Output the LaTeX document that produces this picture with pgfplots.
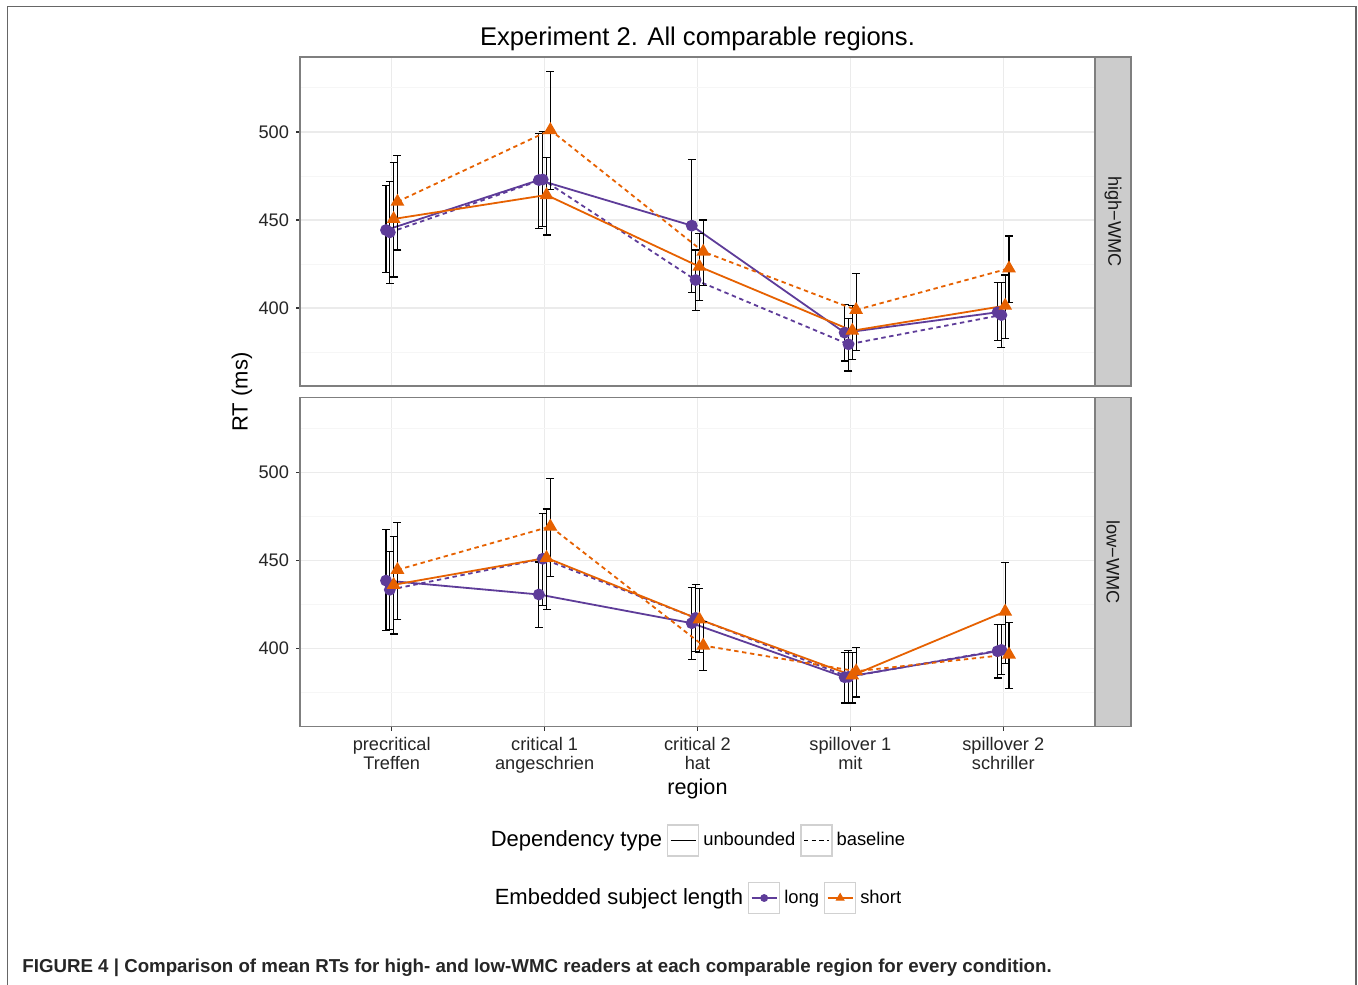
\documentclass[border=0pt]{standalone}
\usepackage{fontspec}
\setmainfont{Liberation Sans}
\usepackage{pgfplots}
\pgfplotsset{compat=1.18}
\usepackage{pgfplotstable}
\newlength\px \setlength\px{0.5pt}
\definecolor{cpurple}{HTML}{5E3C99}
\definecolor{corange}{HTML}{E66101}
\definecolor{gridmaj}{HTML}{EBEBEB}
\definecolor{gridmin}{HTML}{F6F6F6}
\definecolor{border}{HTML}{7F7F7F}
\definecolor{stripfill}{HTML}{CCCCCC}

% high-WMC
\pgfplotstableread{
x y lo hi
1 444.3 420.1 469.5
2 472.7 445.3 499.2
3 446.8 408.9 484.5
4 386.0 369.9 402.1
5 397.6 381.4 414.4
}\hiLU
\pgfplotstableread{
x y lo hi
1 443.0 414.0 471.8
2 473.0 446.2 500.2
3 415.9 398.7 433.0
4 379.4 364.2 394.1
5 396.0 377.6 414.4
}\hiLB
\pgfplotstableread{
x y lo hi
1 450.6 417.6 482.6
2 464.2 441.5 485.4
3 423.5 404.4 442.2
4 387.1 370.8 401.5
5 401.3 382.8 418.8
}\hiSU
\pgfplotstableread{
x y lo hi
1 460.4 433.0 486.7
2 501.1 467.4 534.3
3 432.0 412.9 450.0
4 398.9 375.8 419.7
5 422.5 403.2 440.9
}\hiSB
% low-WMC
\pgfplotstableread{
x y lo hi
1 438.6 410.2 467.4
2 430.7 412.1 449.2
3 414.4 393.8 434.8
4 383.7 369.0 397.9
5 398.5 383.3 413.8
}\loLU
\pgfplotstableread{
x y lo hi
1 433.4 410.6 455.3
2 451.0 424.4 476.9
3 417.4 398.5 436.2
4 383.9 369.0 398.9
5 399.2 385.2 413.8
}\loLB
\pgfplotstableread{
x y lo hi
1 436.2 408.3 463.6
2 451.5 422.3 479.3
3 416.5 397.9 433.9
4 384.7 369.0 397.9
5 421.0 391.7 448.9
}\loSU
\pgfplotstableread{
x y lo hi
1 444.7 416.5 471.4
2 469.3 441.1 496.6
3 401.7 387.5 415.5
4 387.1 372.5 400.6
5 396.6 377.1 415.0
}\loSB

\pgfplotsset{
  panel/.style={
    scale only axis, width=795\px, height=329\px,
    xmin=0.4, xmax=5.6, ymin=355.7, ymax=542.6,
    xtick={1,2,3,4,5}, ytick={400,450,500}, minor ytick={375,425,475,525},
    grid=both,
    major grid style={gridmaj, line width=0.6pt},
    minor grid style={gridmin, line width=0.5pt},
    axis line style={border, line width=0.65pt},
    tick align=outside, tick pos=left,
    major tick length=4\px, minor tick length=0pt,
    major tick style={black!80, line width=0.55pt},
    ticklabel style={font=\fontsize{9.1}{9.5}\selectfont, text=black!85},
    /pgf/number format/assume math mode=true,
    axis background/.style={fill=white},
  },
  LU/.style={cpurple, line width=0.9pt, solid, mark=*, mark size=2.5pt, mark options={solid, fill=cpurple}},
  LB/.style={cpurple, line width=0.9pt, dash pattern=on 2.2pt off 1.8pt, mark=*, mark size=2.5pt, mark options={solid, fill=cpurple}},
  SU/.style={corange, line width=0.9pt, solid, mark=triangle*, mark size=3.1pt, mark options={solid, fill=corange}},
  SB/.style={corange, line width=0.9pt, dash pattern=on 2.2pt off 1.8pt, mark=triangle*, mark size=3.1pt, mark options={solid, fill=corange}},
  ebars/.style={error bars/.cd, y dir=both, y explicit,
    error bar style={black, line width=0.6pt, solid},
    error mark options={black, rotate=90, mark size=4\px, line width=0.6pt, solid}},
  keyline/.style={legend image code/.code={%
    \draw[black!18, line width=0.6pt, solid, fill=white] (0pt,-7.75pt) rectangle (15.5pt,7.75pt);
    \draw[mark repeat=2, mark phase=2, ##1] plot coordinates {(1.5pt,0pt) (7.75pt,0pt) (14pt,0pt)};
  }},
  leg/.style={legend style={draw=none, fill=none, anchor=center, legend columns=-1,
    font=\fontsize{9.2}{10}\selectfont, text=black,
    /tikz/every even column/.append style={column sep=1\px}}},
}

\begin{document}
\begin{tikzpicture}
\useasboundingbox (0,0) rectangle (1358\px,-984\px);
\fill[white] (0,0) rectangle (1358\px,-984\px);
\draw[black!60, line width=0.75pt] (7.5\px,-995\px) -- (7.5\px,-6.5\px) -- (1356\px,-6.5\px) -- (1356\px,-995\px);

% top panel: high-WMC
\begin{axis}[panel, at={(300\px,-57\px)}, anchor=north west,
  xticklabels={}, xtick style={draw=none}, leg,
  legend style={at={(0.5006,-1.3814)}}]
\addplot[LU, forget plot, ebars] table[x expr=\thisrow{x}-0.0375, y=y, y error plus expr=\thisrow{hi}-\thisrow{y}, y error minus expr=\thisrow{y}-\thisrow{lo}] {\hiLU};
\addplot[LB, forget plot, ebars] table[x expr=\thisrow{x}-0.0125, y=y, y error plus expr=\thisrow{hi}-\thisrow{y}, y error minus expr=\thisrow{y}-\thisrow{lo}] {\hiLB};
\addplot[SU, forget plot, ebars] table[x expr=\thisrow{x}+0.0125, y=y, y error plus expr=\thisrow{hi}-\thisrow{y}, y error minus expr=\thisrow{y}-\thisrow{lo}] {\hiSU};
\addplot[SB, forget plot, ebars] table[x expr=\thisrow{x}+0.0375, y=y, y error plus expr=\thisrow{hi}-\thisrow{y}, y error minus expr=\thisrow{y}-\thisrow{lo}] {\hiSB};
\addlegendimage{empty legend}
\addlegendentry{\fontsize{11}{12}\selectfont Dependency type\hspace{2pt}}
\addlegendimage{keyline, black, line width=0.9pt, solid}
\addlegendentry{unbounded}
\addlegendimage{keyline, black, line width=0.9pt, dash pattern=on 2.2pt off 1.6pt}
\addlegendentry{baseline}
\end{axis}

% bottom panel: low-WMC
\begin{axis}[panel, at={(300\px,-397.5\px)}, anchor=north west,
  xticklabels={{precritical\\Treffen},{critical 1\\angeschrien},{critical 2\\hat},{spillover 1\\mit},{spillover 2\\schriller}},
  xticklabel style={align=center}, leg,
  legend style={at={(0.5006,-0.5213)}}]
\addplot[LU, forget plot, ebars] table[x expr=\thisrow{x}-0.0375, y=y, y error plus expr=\thisrow{hi}-\thisrow{y}, y error minus expr=\thisrow{y}-\thisrow{lo}] {\loLU};
\addplot[LB, forget plot, ebars] table[x expr=\thisrow{x}-0.0125, y=y, y error plus expr=\thisrow{hi}-\thisrow{y}, y error minus expr=\thisrow{y}-\thisrow{lo}] {\loLB};
\addplot[SU, forget plot, ebars] table[x expr=\thisrow{x}+0.0125, y=y, y error plus expr=\thisrow{hi}-\thisrow{y}, y error minus expr=\thisrow{y}-\thisrow{lo}] {\loSU};
\addplot[SB, forget plot, ebars] table[x expr=\thisrow{x}+0.0375, y=y, y error plus expr=\thisrow{hi}-\thisrow{y}, y error minus expr=\thisrow{y}-\thisrow{lo}] {\loSB};
\addlegendimage{empty legend}
\addlegendentry{\fontsize{11}{12}\selectfont Embedded subject length\hspace{2pt}}
\addlegendimage{keyline, cpurple, line width=0.7pt, solid, mark=*, mark size=1.6pt, mark options={fill=cpurple}}
\addlegendentry{long}
\addlegendimage{keyline, corange, line width=0.7pt, solid, mark=triangle*, mark size=2pt, mark options={fill=corange}}
\addlegendentry{short}
\end{axis}

% strips
\draw[border, fill=stripfill, line width=0.65pt] (1095\px,-57\px) rectangle (1131\px,-386\px);
\node[rotate=-90, font=\fontsize{9.1}{10}\selectfont, text=black!90] at (1113\px,-221.5\px) {high−WMC};
\draw[border, fill=stripfill, line width=0.65pt] (1095\px,-397.5\px) rectangle (1131\px,-726.5\px);
\node[rotate=-90, font=\fontsize{9.1}{10}\selectfont, text=black!90] at (1113\px,-562\px) {low−WMC};

% titles and labels
\node[font=\fontsize{12.8}{14}\selectfont] at (697.5\px,-38.5\px) {Experiment 2. All comparable regions.};
\node[font=\fontsize{11}{12}\selectfont, rotate=90] at (242\px,-392\px) {RT (ms)};
\node[font=\fontsize{10.8}{12}\selectfont] at (697.5\px,-789\px) {region};

% caption
\node[anchor=base west, inner sep=0pt, font=\fontsize{9.35}{11}\selectfont\bfseries, text=black!85] at (22\px,-972\px)
  {FIGURE 4 | Comparison of mean RTs for high- and low-WMC readers at each comparable region for every condition.};
\end{tikzpicture}
\end{document}
